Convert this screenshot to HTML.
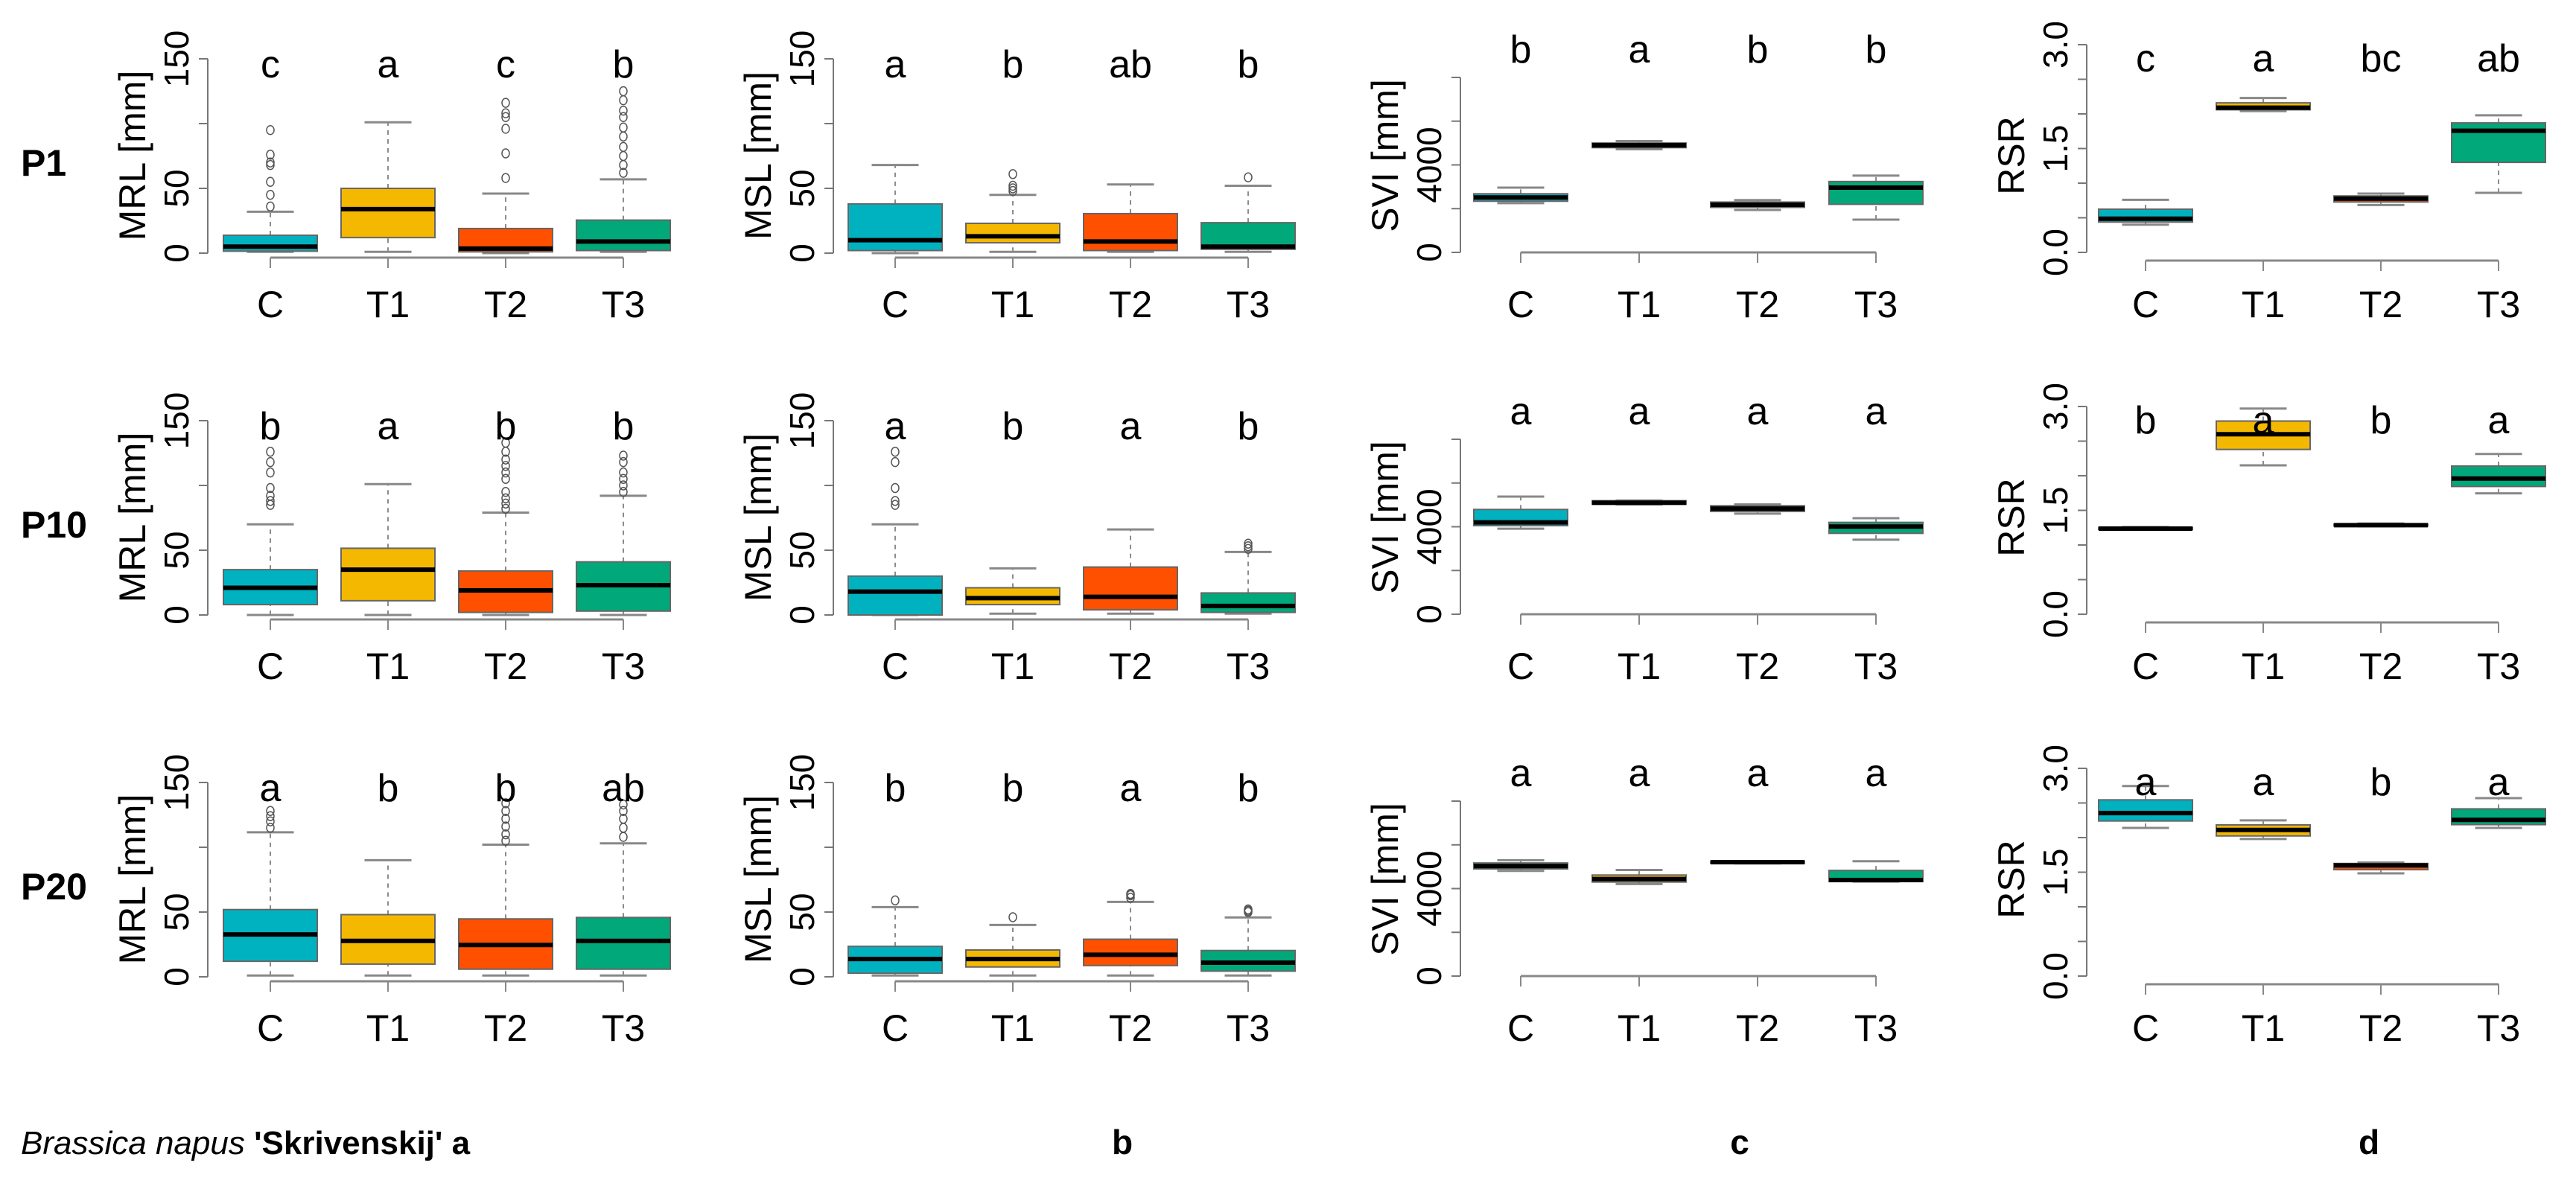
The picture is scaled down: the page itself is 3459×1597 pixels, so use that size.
<!DOCTYPE html>
<html><head><meta charset="utf-8"><style>
html,body{margin:0;padding:0;background:#fff;}
svg{display:block;font-family:"Liberation Sans",sans-serif;}
</style></head><body>
<svg id="fig" xmlns="http://www.w3.org/2000/svg" width="3459" height="1597" viewBox="0 0 3459 1597">
<rect width="3459" height="1597" fill="#fff"/>
<text x="28" y="1550" font-size="44"><tspan font-style="italic">Brassica napus</tspan> <tspan font-weight="bold">'Skrivenskij' a</tspan></text>
<text x="1507" y="1550" font-size="46" font-weight="bold" text-anchor="middle">b</text>
<text x="2336" y="1550" font-size="46" font-weight="bold" text-anchor="middle">c</text>
<text x="3181" y="1550" font-size="46" font-weight="bold" text-anchor="middle">d</text>
</svg>
<script>
const categories = ["C","T1","T2","T3"];
const colors = ["#00B2C0","#F5B800","#FF5000","#00A87A"];
const rowLabels = ["P1","P10","P20"];
// stats per group: [low whisker, q1, median, q3, high whisker]
const mrlP1 = [[1,1.5,5,13.8,32],[1,12,34,50,101],[0,1,3.5,19,46],[1,2,9,25.5,57]];
const mrlP1Out = [[36,45,55,68,70,76,95],[],[58,77,96,105,108,116],[62,68,75,82,90,97,105,110,118,125]];
const mslP1 = [[0,2,10,38,68],[1,8,13,23,45],[1,2,9,30.5,53],[1,3,5,23.5,52]];
const mslP1Out = [[],[48,50,52,61],[],[58.5]];
const sviP1 = [[2250,2340,2510,2680,2960],[4720,4790,4900,5000,5090],[1940,2060,2180,2300,2390],[1500,2200,2960,3240,3510]];
const rsrP1 = [[0.40,0.438,0.487,0.624,0.76],[2.04,2.06,2.09,2.16,2.23],[0.684,0.728,0.777,0.815,0.85],[0.86,1.30,1.757,1.87,1.98]];
const mrlP10 = [[0,8,21,35,70],[0,11,35,51.5,101],[0,2,19,34,79],[0,3,23,41,92]];
const mrlP10Out = [[85,88,92,98,110,118,126],[],[82,86,90,95,105,110,115,120,126,133],[95,100,105,110,118,123]];
const mslP10 = [[0,0,18,30,70],[1,8,13,21,36],[1,4,14,37,66],[1,2,7,17,48.6]];
const mslP10Out = [[85,88,98,118,126],[],[],[51,53,55]];
const sviP10 = [[3910,4050,4200,4790,5380],[5020,5030,5100,5190,5200],[4600,4700,4830,4960,5020],[3410,3700,4010,4200,4390]];
const rsrP10 = [[1.22,1.226,1.237,1.253,1.26],[2.15,2.38,2.6,2.79,2.97],[1.27,1.275,1.286,1.30,1.31],[1.746,1.845,1.96,2.14,2.315]];
const mrlP20 = [[1,12,32.7,51.9,111.6],[1,9.8,27.7,48,90],[1,5.9,24.6,44.7,102],[1,5.9,27.7,45.8,103]];
const mrlP20Out = [[115,120,124,128],[],[105,110,116,122,128,134],[108,115,122,128,133]];
const mslP20 = [[1,2.8,13.7,23.5,53.8],[1,7.6,13.7,20.7,40],[1,8.7,17,29,57.8],[1,4.4,10.9,20.3,45.8]];
const mslP20Out = [[59],[46],[61,63,64],[50,51,52]];
const sviP20 = [[4810,4900,5030,5170,5300],[4210,4300,4440,4620,4850],[5150,5160,5210,5250,5260],[4320,4320,4390,4830,5250]];
const rsrP20 = [[2.14,2.24,2.354,2.545,2.744],[1.98,2.024,2.11,2.183,2.248],[1.484,1.537,1.598,1.626,1.64],[2.14,2.187,2.256,2.415,2.57]];
const lettersMRL = [["c","a","c","b"],["b","a","b","b"],["a","b","b","ab"]];
const lettersMSL = [["a","b","ab","b"],["a","b","a","b"],["b","b","a","b"]];
const lettersSVI = [["b","a","b","b"],["a","a","a","a"],["a","a","a","a"]];
const lettersRSR = [["c","a","bc","ab"],["b","a","b","a"],["a","a","b","a"]];
const mrlTicks = [0,50,100,150], mrlTickLabels = ["0","50","","150"];
const sviTicks = [0,2000,4000,6000,8000], sviTickLabels = ["0","","4000","",""];
const rsrTicks = [0,0.5,1,1.5,2,2.5,3], rsrTickLabels = ["0.0","","","1.5","","","3.0"];

const NS="http://www.w3.org/2000/svg";
const svg=document.getElementById('fig');
function mk(tag,attrs,parent){const e=document.createElementNS(NS,tag);for(const k in attrs)e.setAttribute(k,attrs[k]);(parent||svg).appendChild(e);return e;}

const ROW=486;
const panelTypes=[
 {key:'mrl',title:'MRL [mm]',axisX:279,c0:363,step:158,y0:340,yTop:79,max:150,ticks:mrlTicks,tl:mrlTickLabels,xAxisY:346,letY:104},
 {key:'msl',title:'MSL [mm]',axisX:1119,c0:1202,step:158,y0:340,yTop:79,max:150,ticks:mrlTicks,tl:mrlTickLabels,xAxisY:346,letY:104},
 {key:'svi',title:'SVI [mm]',axisX:1961,c0:2042,step:159,y0:339,yTop:104,max:8000,ticks:sviTicks,tl:sviTickLabels,xAxisY:339,letY:84},
 {key:'rsr',title:'RSR',axisX:2802,c0:2881,step:158,y0:339,yTop:60,max:3,ticks:rsrTicks,tl:rsrTickLabels,xAxisY:350,letY:96}
];
const statsAll={mrl:[mrlP1,mrlP10,mrlP20],msl:[mslP1,mslP10,mslP20],svi:[sviP1,sviP10,sviP20],rsr:[rsrP1,rsrP10,rsrP20]};
const outAll={mrl:[mrlP1Out,mrlP10Out,mrlP20Out],msl:[mslP1Out,mslP10Out,mslP20Out],svi:[[],[],[]],rsr:[[],[],[]]};
const letAll={mrl:lettersMRL,msl:lettersMSL,svi:lettersSVI,rsr:lettersRSR};

for(let r=0;r<3;r++){
  const lab=mk('text',{x:28,y:236+r*ROW,'font-size':50,'font-weight':'bold'});
  
  
  lab.textContent=rowLabels[r];
  panelTypes.forEach(p=>{
    const off=r*ROW;
    const g=mk('g',{});
    
    
    const y=v=>off+p.y0-(v/p.max)*(p.y0-p.yTop);
    const x=i=>p.c0+i*p.step;
    const ya=mk('line',{x1:p.axisX,x2:p.axisX,y1:y(0),y2:y(p.max),stroke:'#777','stroke-width':2},g);
    
    
    p.ticks.forEach((t,i)=>{
      const tk=mk('line',{x1:p.axisX-12,x2:p.axisX,y1:y(t),y2:y(t),stroke:'#777','stroke-width':2},g);
      
      
      if(p.tl[i]){
        const tx=mk('text',{x:0,y:0,'font-size':46,'text-anchor':'middle',transform:`translate(${p.axisX-26},${y(t)}) rotate(-90)`},g);
        
        
        tx.textContent=p.tl[i];
      }
    });
    const yt=mk('text',{x:0,y:0,'font-size':50,'text-anchor':'middle',transform:`translate(${p.axisX-84},${off+209}) rotate(-90)`},g);
    
    
    yt.textContent=p.title;
    const xa=mk('line',{x1:x(0),x2:x(3),y1:off+p.xAxisY,y2:off+p.xAxisY,stroke:'#888','stroke-width':3},g);
    
    
    const stats=statsAll[p.key][r], outs=outAll[p.key][r]||[], lets=letAll[p.key][r];
    categories.forEach((c,i)=>{
      const tk=mk('line',{x1:x(i),x2:x(i),y1:off+p.xAxisY,y2:off+p.xAxisY+14,stroke:'#888','stroke-width':2},g);
      
      
      const xl=mk('text',{x:x(i),y:off+426,'font-size':50,'text-anchor':'middle'},g);
      
      
      xl.textContent=c;
      const s=stats[i], w=126, cw=63;
      const bg=mk('g',{},g);
      
      
      mk('line',{x1:x(i),x2:x(i),y1:y(s[0]),y2:y(s[1]),stroke:'#666','stroke-width':1.5,'stroke-dasharray':'6,6'},bg);
      mk('line',{x1:x(i),x2:x(i),y1:y(s[3]),y2:y(s[4]),stroke:'#666','stroke-width':1.5,'stroke-dasharray':'6,6'},bg);
      mk('line',{x1:x(i)-cw/2,x2:x(i)+cw/2,y1:y(s[0]),y2:y(s[0]),stroke:'#888','stroke-width':3},bg);
      mk('line',{x1:x(i)-cw/2,x2:x(i)+cw/2,y1:y(s[4]),y2:y(s[4]),stroke:'#888','stroke-width':3},bg);
      mk('rect',{x:x(i)-w/2,y:y(s[3]),width:w,height:Math.max(1,y(s[1])-y(s[3])),fill:colors[i],stroke:'#666','stroke-width':2},bg);
      mk('line',{x1:x(i)-w/2,x2:x(i)+w/2,y1:y(s[2]),y2:y(s[2]),stroke:'#000','stroke-width':6},bg);
      (outs[i]||[]).forEach(v=>{
        const o=mk('ellipse',{cx:x(i),cy:y(v),rx:5,ry:6,fill:'none',stroke:'#555','stroke-width':1.5},bg);
        
        
      });
      const lt=mk('text',{x:x(i),y:off+p.letY,'font-size':52,'text-anchor':'middle'},g);
      
      
      lt.textContent=lets[i];
    });
  });
}
</script>
</body></html>
